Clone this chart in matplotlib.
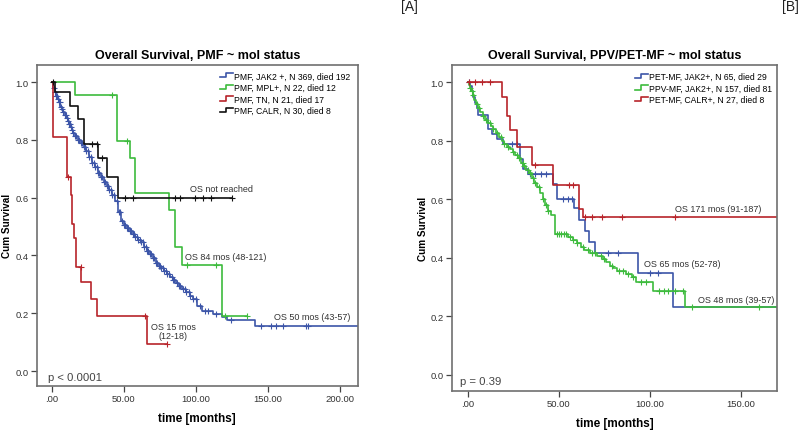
import numpy as np
import matplotlib
matplotlib.use("Agg")
import matplotlib.pyplot as plt
from matplotlib.legend_handler import HandlerBase
from matplotlib.lines import Line2D

plt.rcParams['font.family'] = ['Liberation Sans', 'DejaVu Sans']

# ---- panel A: PMF ----
jak2_t = [0, 1, 2, 3, 4, 5, 6, 7, 8, 9, 10, 11, 12, 13, 14, 15, 16, 18, 20, 22, 24, 26, 28,
          30, 32, 34, 36, 38, 40, 42, 44, 46, 48, 50, 52, 54, 56, 58, 60, 62, 64, 66, 68, 70,
          72, 74, 76, 78, 80, 82, 84, 86, 88, 90, 93, 96, 98, 101, 104, 112, 118, 121.5, 141]
jak2_s = [1.0, 0.98, 0.965, 0.95, 0.94, 0.93, 0.915, 0.905, 0.895, 0.885, 0.875, 0.865, 0.855,
          0.845, 0.835, 0.825, 0.815, 0.80, 0.79, 0.775, 0.76, 0.74, 0.72, 0.705, 0.685, 0.67,
          0.655, 0.64, 0.625, 0.61, 0.59, 0.55, 0.52, 0.505, 0.495, 0.485, 0.475, 0.465, 0.455,
          0.445, 0.43, 0.415, 0.405, 0.39, 0.375, 0.365, 0.355, 0.345, 0.335, 0.325, 0.315,
          0.305, 0.295, 0.285, 0.275, 0.26, 0.25, 0.226, 0.209, 0.197, 0.186, 0.176, 0.157]
jak2_end = 215
jak2_cens = [1.5, 2, 3, 3.5, 4, 5, 5.5, 6.5, 7, 8, 9, 9.5, 10.5, 11, 12, 12.5, 13.5, 14, 15,
             16, 17, 18, 19, 20, 21, 22, 23, 24, 25, 26, 27, 28, 29, 30, 31, 32, 33, 34, 35,
             36, 37, 38, 39, 40, 41, 42, 43, 45, 46.5, 47, 49, 50, 51, 52, 53, 54, 55, 56, 57,
             58, 59, 60, 61, 62, 63, 64, 65, 66, 67, 68, 69, 70, 71, 72, 73, 74, 75, 76, 77,
             78, 79, 80, 81, 83, 84, 85, 87, 88, 89, 91, 92, 93, 95, 96, 98, 100, 103, 106,
             108, 114, 124, 145, 151.7, 155.6, 160.2, 176, 177.8]

mpl_t = [0, 15.8, 45, 54.4, 57.9, 81, 85.2, 90.3, 118]
mpl_s = [1.0, 0.955, 0.797, 0.737, 0.616, 0.558, 0.431, 0.368, 0.19]
mpl_end = 135
mpl_cens = [41.5, 52, 93.5, 114, 120, 135]

tn_t = [0, 0.7, 10.5, 13, 14.2, 15.5, 16.7, 20.1, 27.4, 31.3, 66]
tn_s = [1.0, 0.81, 0.67, 0.61, 0.51, 0.46, 0.36, 0.31, 0.25, 0.19, 0.095]
tn_end = 80
tn_cens = [11, 20, 64.4, 80]

calr_t = [0, 2.4, 12.3, 18.5, 22, 31.7, 38.2, 45.8]
calr_s = [1.0, 0.964, 0.918, 0.872, 0.785, 0.737, 0.670, 0.598]
calr_end = 124.6
calr_cens = [0.5, 27.8, 31.2, 34.7, 51, 56.3, 85.2, 89.2, 99.6, 104.6, 110.7, 124.6]

labels_a = ['PMF, JAK2 +, N 369, died 192', 'PMF, MPL+, N 22, died 12',
            'PMF, TN, N 21, died 17', 'PMF, CALR, N 30, died 8']

# ---- panel B: PPV/PET-MF ----
petj_t = [0, 1, 2, 3, 4, 5, 5.7, 11.2, 13, 16, 19, 28.6, 30.4, 33.1, 46.9, 48.7, 58.2, 61.2,
          64.3, 66.7, 70, 93.6, 112.5]
petj_s = [1.0, 0.985, 0.97, 0.95, 0.93, 0.91, 0.887, 0.84, 0.823, 0.805, 0.788, 0.737, 0.703,
          0.686, 0.652, 0.60, 0.569, 0.53, 0.492, 0.455, 0.416, 0.348, 0.231]
petj_end = 175
petj_cens = [0.5, 24, 26.8, 34, 37, 40, 43, 52.4, 55.1, 57, 77.1, 82.6, 100, 104.6]

ppv_t = [0, 0.5, 1, 1.5, 2.5, 3.5, 4.5, 5.5, 6.5, 8, 9.5, 11, 12.5, 14, 15.5, 17, 18.5, 20,
         21.5, 23, 24.5, 26, 27.5, 29, 30.5, 32, 33.5, 35, 36.5, 38, 39.5, 41, 42.5, 44, 45.5,
         47.8, 55, 58, 60, 62, 64, 67, 71, 74, 76, 78, 80, 82, 87, 90, 92.5, 101.5, 119.2]
ppv_s = [1.0, 0.99, 0.98, 0.97, 0.955, 0.94, 0.925, 0.91, 0.897, 0.885, 0.872, 0.86, 0.85,
         0.84, 0.825, 0.812, 0.80, 0.79, 0.78, 0.77, 0.76, 0.75, 0.74, 0.725, 0.712, 0.70,
         0.688, 0.672, 0.655, 0.64, 0.62, 0.60, 0.58, 0.56, 0.545, 0.48, 0.47, 0.46, 0.45,
         0.435, 0.425, 0.415, 0.405, 0.395, 0.385, 0.373, 0.365, 0.355, 0.345, 0.333, 0.316,
         0.288, 0.231]
ppv_end = 175
ppv_cens = [1, 2, 3, 5, 6, 8, 10, 12, 14, 16, 18, 20, 22, 25, 27, 28, 30, 31, 33, 34, 36, 37,
            39, 41, 43, 44, 49, 50, 51, 53, 54, 56, 58, 60, 63, 66, 68, 70, 73, 75, 79, 83,
            85, 88, 91, 95, 98, 105, 108, 110, 114, 118, 123, 160]

petc_t = [0, 18.5, 21.6, 23.1, 27.1, 35, 46.9, 61.2, 63]
petc_s = [1.0, 0.95, 0.885, 0.836, 0.78, 0.717, 0.648, 0.566, 0.54]
petc_end = 175
petc_cens = [0.7, 3.8, 7.5, 12.1, 36.8, 55.7, 57.9, 64.3, 68, 73.5, 84.9, 113.7]

labels_b = ['PET-MF, JAK2+, N 65, died 29', 'PPV-MF, JAK2+, N 157, died 81',
            'PET-MF, CALR+, N 27, died 8']

BLUE = '#3c55a8'
GREEN = '#3dbb3d'
RED = '#b8242a'
BLACK = '#111111'
SPINE = '#707070'
TXT = '#333333'


class StepHandler(HandlerBase):
    # SPSS style legend key: a small step
    def create_artists(self, legend, orig_handle, xdescent, ydescent, width, height, fontsize, trans):
        x0, y0 = -xdescent, -ydescent
        xs = [x0, x0 + 0.45 * width, x0 + 0.45 * width, x0 + width]
        ys = [y0 + 0.15 * height, y0 + 0.15 * height, y0 + 0.85 * height, y0 + 0.85 * height]
        ln = Line2D(xs, ys, color=orig_handle.get_color(), lw=1.2, transform=trans)
        return [ln]


def km(ax, t, s, end, cens, color):
    tt = np.append(t, end)
    ss = np.append(s, s[-1])
    line, = ax.step(tt, ss, where='post', color=color, lw=1.2)
    idx = np.searchsorted(t, cens, side='right') - 1
    cy = np.array(s)[idx]
    ax.plot(cens, cy, ls='none', marker='+', ms=5, mew=0.8, color=color)
    return line


def style(ax, xticks, xlabels, xlim, ylim):
    ax.set_xlim(*xlim)
    ax.set_ylim(*ylim)
    ax.set_xticks(xticks)
    ax.set_xticklabels(xlabels)
    ax.set_yticks([0.0, 0.2, 0.4, 0.6, 0.8, 1.0])
    ax.set_yticklabels(['0.0', '0.2', '0.4', '0.6', '0.8', '1.0'])
    ax.tick_params(direction='out', length=4, width=0.9, color='#444444',
                   labelsize=6.8, labelcolor=TXT, pad=2)
    for sp in ax.spines.values():
        sp.set_color(SPINE)
        sp.set_linewidth(1.2)
    ax.set_xlabel('time [months]', fontsize=8.5, fontweight='bold', labelpad=6)
    ax.set_ylabel('Cum Survival', fontsize=7.2, fontweight='bold', labelpad=2)


fig = plt.figure(figsize=(8, 4.35), dpi=100)

# panel A
ax1 = fig.add_axes([0.046, 0.110, 0.401, 0.739])
h1 = km(ax1, jak2_t, jak2_s, jak2_end, jak2_cens, BLUE)
h2 = km(ax1, mpl_t, mpl_s, mpl_end, mpl_cens, GREEN)
h3 = km(ax1, tn_t, tn_s, tn_end, tn_cens, RED)
h4 = km(ax1, calr_t, calr_s, calr_end, calr_cens, BLACK)
style(ax1, [0, 50, 100, 150, 200], ['.00', '50.00', '100.00', '150.00', '200.00'],
      (-10.4, 212), (-0.052, 1.06))
ax1.set_title('Overall Survival, PMF ~ mol status', fontsize=9, fontweight='bold', pad=5)
ax1.legend([h1, h2, h3, h4], labels_a, handler_map={Line2D: StepHandler()},
           loc='upper left', bbox_to_anchor=(0.56, 0.99), frameon=False, fontsize=6.2,
           handlelength=1.5, handletextpad=0.1, labelspacing=0.3, borderaxespad=0)
ax1.text(96, 0.63, 'OS not reached', fontsize=6.5, color=TXT, va='center')
ax1.text(92.6, 0.398, 'OS 84 mos (48-121)', fontsize=6.5, color=TXT, va='center')
ax1.text(154, 0.19, 'OS 50 mos (43-57)', fontsize=6.5, color=TXT, va='center')
ax1.text(84, 0.138, 'OS 15 mos\n(12-18)', fontsize=6.5, color=TXT, va='center', ha='center',
         linespacing=0.95)
ax1.text(-2.3, -0.02, 'p < 0.0001', fontsize=8.2, color='#444444', va='center')

# panel B
ax2 = fig.add_axes([0.565, 0.099, 0.406, 0.749])
g1 = km(ax2, petj_t, petj_s, petj_end, petj_cens, BLUE)
g2 = km(ax2, ppv_t, ppv_s, ppv_end, ppv_cens, GREEN)
g3 = km(ax2, petc_t, petc_s, petc_end, petc_cens, RED)
style(ax2, [0, 50, 100, 150], ['.00', '50.00', '100.00', '150.00'],
      (-8.8, 169.8), (-0.055, 1.058))
ax2.set_title('Overall Survival, PPV/PET-MF ~ mol status', fontsize=9, fontweight='bold', pad=5)
ax2.legend([g1, g2, g3], labels_b, handler_map={Line2D: StepHandler()},
           loc='upper left', bbox_to_anchor=(0.553, 0.99), frameon=False, fontsize=6.2,
           handlelength=1.5, handletextpad=0.1, labelspacing=0.3, borderaxespad=0)
ax2.text(113.7, 0.569, 'OS 171 mos (91-187)', fontsize=6.5, color=TXT, va='center')
ax2.text(96.7, 0.379, 'OS 65 mos (52-78)', fontsize=6.5, color=TXT, va='center')
ax2.text(126.5, 0.258, 'OS 48 mos (39-57)', fontsize=6.5, color=TXT, va='center')
ax2.text(-4.4, -0.02, 'p = 0.39', fontsize=8.2, color='#444444', va='center')

fig.text(0.501, 1.0, '[A]', fontsize=10, color='#222222', va='top', ha='left')
fig.text(0.977, 1.0, '[B]', fontsize=10, color='#222222', va='top', ha='left')

fig.savefig('out.png', dpi=100)
